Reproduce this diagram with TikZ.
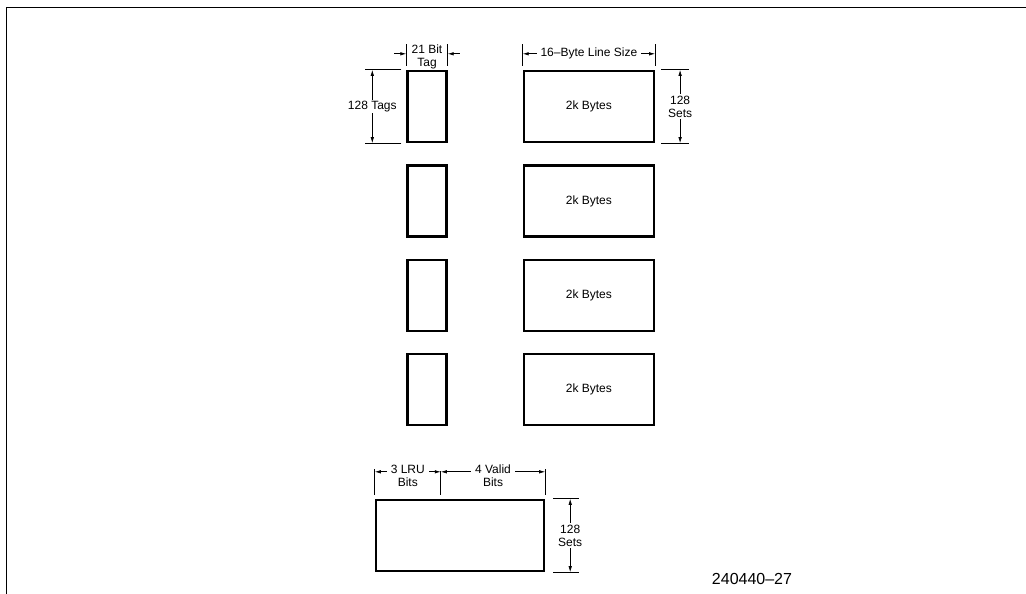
\documentclass[tikz,border=0pt]{standalone}
\usepackage{fontspec}
\setmainfont{Liberation Sans}
\usetikzlibrary{arrows.meta,positioning,calc}

\begin{document}
\begin{tikzpicture}[
  x=1pt,y=-1pt,
  node distance=21pt,
  box/.style={draw,line width=2.4pt,inner sep=0pt,minimum height=71pt,font=\fontsize{12}{13}\selectfont},
  tagbox/.style={box,minimum width=39pt},
  databox/.style={box,minimum width=130pt},
  ext/.style={line width=0.7pt},
  arr/.style={ext,-{Latex[length=6pt,width=3.5pt]}},
  dimarr/.style={ext,{Latex[length=6pt,width=3.5pt]}-{Latex[length=6pt,width=3.5pt]}},
  lbl/.style={fill=white,inner ysep=1.5pt,inner xsep=4pt,align=center,font=\fontsize{12}{13}\selectfont}
]
\useasboundingbox (0,0) rectangle (1026,594);
\draw[line width=1pt] (6,594) -- (6,8) -- (1026,8);

\node[tagbox] (t1) at (427,106.5) {};
\node[tagbox,below=of t1] (t2) {};
\node[tagbox,below=of t2] (t3) {};
\node[tagbox,below=of t3] (t4) {};
\node[databox,right=75pt of t1] (d1) {2k Bytes};
\node[databox,right=75pt of t2] (d2) {2k Bytes};
\node[databox,right=75pt of t3] (d3) {2k Bytes};
\node[databox,right=75pt of t4] (d4) {2k Bytes};
\node[box,minimum width=168pt] (v) at (460,535.5) {};

% tag width
\draw[ext] ($(t1.north west)+(0,-4)$) -- ++(0,-22);
\draw[ext] ($(t1.north east)+(0,-4)$) -- ++(0,-22);
\draw[arr] ($(t1.north west)+(-12,-16)$) -- ($(t1.north west)+(0,-16)$);
\draw[arr] ($(t1.north east)+(12,-16)$) -- ($(t1.north east)+(0,-16)$);
\node[lbl,fill=none] (tagw) at ($(t1.north)+(0,-13)$) {21 Bit\\Tag};

% tag count
\draw[ext] ($(t1.north west)+(-5,0)$) -- ++(-36,0);
\draw[ext] ($(t1.south west)+(-5,0)$) -- ++(-36,0);
\draw[dimarr] ($(t1.north west)+(-34,0)$) -- ($(t1.south west)+(-34,0)$)
  node[lbl,midway] (tagn) {128 Tags};

% line size
\draw[ext] ($(d1.north west)+(0,-4)$) -- ++(0,-22);
\draw[ext] ($(d1.north east)+(0,-4)$) -- ++(0,-22);
\draw[dimarr] ($(d1.north west)+(0,-16)$) -- ($(d1.north east)+(0,-16)$)
  node[lbl,midway] (linesz) {16--Byte Line Size};

% sets
\draw[ext] ($(d1.north east)+(6,0)$) -- ++(28,0);
\draw[ext] ($(d1.south east)+(6,0)$) -- ++(28,0);
\draw[dimarr] ($(d1.north east)+(25,0)$) -- ($(d1.south east)+(25,0)$)
  node[lbl,midway] (sets) {128\\Sets};

% lru and valid bits
\coordinate (vm) at ($(v.north west)+(66,0)$);
\draw[ext] ($(v.north west)+(0,-4)$) -- ++(0,-26);
\draw[ext] ($(vm)+(0,-4)$) -- ++(0,-24);
\draw[ext] ($(v.north east)+(0,-4)$) -- ++(0,-26);
\draw[dimarr] ($(v.north west)+(0,-27)$) -- ($(vm)+(0,-27)$)
  node[lbl,midway,yshift=-4pt] (lru) {3 LRU\\Bits};
\draw[dimarr] ($(vm)+(0,-27)$) -- ($(v.north east)+(0,-27)$)
  node[lbl,midway,yshift=-4pt] (valid) {4 Valid\\Bits};

\draw[ext] ($(v.north east)+(8,0)$) -- ++(26,0);
\draw[ext] ($(v.south east)+(8,0)$) -- ++(26,0);
\draw[dimarr] ($(v.north east)+(25,0)$) -- ($(v.south east)+(25,0)$)
  node[lbl,midway] (vsets) {128\\Sets};

\node[font=\fontsize{16}{18}\selectfont] (fig) at (752,579) {240440--27};
\end{tikzpicture}
\end{document}
